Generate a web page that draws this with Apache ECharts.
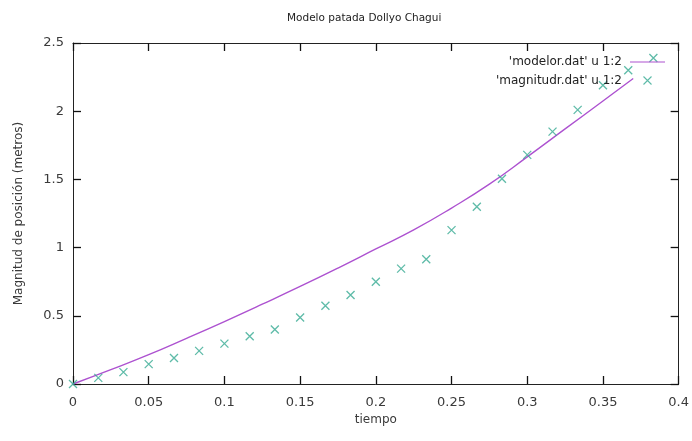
<!DOCTYPE html>
<html>
<head>
<meta charset="utf-8">
<script src="https://cdn.jsdelivr.net/npm/echarts@6/dist/echarts.min.js"></script>
<style>html,body{margin:0;padding:0;background:#fff}#c{width:692px;height:441px}</style>
</head>
<body>
<div id="c"></div>
<script>
// Model curve ('modelor.dat')
const modelT = [0, 0.025, 0.05, 0.075, 0.1, 0.125, 0.15, 0.175, 0.2, 0.225, 0.25, 0.275, 0.3, 0.325, 0.35, 0.37];
const modelY = [0, 0.105, 0.215, 0.335, 0.458, 0.585, 0.715, 0.85, 0.99, 1.13, 1.29, 1.465, 1.665, 1.87, 2.075, 2.24];
// Measured points ('magnitudr.dat')
const measT = [0, 0.0167, 0.0333, 0.05, 0.0667, 0.0833, 0.1, 0.1167, 0.1333, 0.15, 0.1667, 0.1833, 0.2, 0.2167, 0.2333, 0.25, 0.2667, 0.2833, 0.3, 0.3167, 0.3333, 0.35, 0.3667, 0.3833];
const measY = [0, 0.045, 0.087, 0.146, 0.19, 0.243, 0.296, 0.35, 0.4, 0.487, 0.574, 0.652, 0.75, 0.846, 0.915, 1.128, 1.30, 1.505, 1.68, 1.85, 2.01, 2.19, 2.30, 2.39];
const xTicks = [0, 0.05, 0.1, 0.15, 0.2, 0.25, 0.3, 0.35, 0.4];
const yTicks = [0, 0.5, 1, 1.5, 2, 2.5];
const seriesNames = ["'modelor.dat' u 1:2", "'magnitudr.dat' u 1:2"];
const titleText = 'Modelo patada Dollyo Chagui';
const xName = 'tiempo';
const yName = 'Magnitud de posición (metros)';

const FONT = 'DejaVu Sans';
const txt = '#3a3a3a';
const mkLine = () => ({show: true, onZero: false, lineStyle: {color: '#222', width: 1}});
const mkTick = () => ({show: true, inside: true, length: 8, lineStyle: {color: '#111', width: 1.3}});
const crossMark = 'path://M0,0L10,10M10,0L0,10';

const chart = echarts.init(document.getElementById('c'), null, {renderer: 'canvas'});
chart.setOption({
  animation: false,
  backgroundColor: '#fff',
  title: {
    text: titleText, left: 282, top: 8,
    textStyle: {fontFamily: FONT, fontSize: 10.5, fontWeight: 'normal', color: '#222'}
  },
  grid: {left: 73, right: 11, top: 43, bottom: 57, containLabel: false},
  legend: {
    orient: 'vertical', right: 22, top: 51, align: 'right',
    itemGap: 6, itemWidth: 35, itemHeight: 8,
    textStyle: {fontFamily: FONT, fontSize: 12, color: '#222', padding: [0, 3, 0, 0]},
    data: [
      {name: seriesNames[0], icon: 'path://M0,5L36,5L36,6.2L0,6.2Z'},
      {name: seriesNames[1], itemStyle: {color: 'none', borderColor: '#36aa92', borderWidth: 1.1}}
    ]
  },
  xAxis: [{
    type: 'value', min: xTicks[0], max: xTicks[xTicks.length - 1], interval: 0.05,
    name: xName, nameLocation: 'middle', nameGap: 30,
    nameTextStyle: {fontFamily: FONT, fontSize: 12, color: txt},
    axisLine: mkLine(), axisTick: mkTick(),
    axisLabel: {fontFamily: FONT, fontSize: 13, color: txt, margin: 12},
    splitLine: {show: false}
  }, {
    type: 'value', position: 'top', min: xTicks[0], max: xTicks[xTicks.length - 1], interval: 0.05,
    axisLine: mkLine(), axisTick: mkTick(), axisLabel: {show: false}, splitLine: {show: false}
  }],
  yAxis: [{
    type: 'value', min: yTicks[0], max: yTicks[yTicks.length - 1], interval: 0.5,
    name: yName, nameLocation: 'middle', nameGap: 48,
    nameTextStyle: {fontFamily: FONT, fontSize: 12, color: txt},
    axisLine: mkLine(), axisTick: mkTick(),
    axisLabel: {fontFamily: FONT, fontSize: 13, color: txt, margin: 9},
    splitLine: {show: false}
  }, {
    type: 'value', position: 'right', min: yTicks[0], max: yTicks[yTicks.length - 1], interval: 0.5,
    axisLine: mkLine(), axisTick: mkTick(), axisLabel: {show: false}, splitLine: {show: false}
  }],
  series: [{
    name: seriesNames[0], type: 'line', smooth: true, symbol: 'none',
    xAxisIndex: 0, yAxisIndex: 0,
    lineStyle: {color: '#ad52d0', width: 1.4},
    itemStyle: {color: '#ad52d0'},
    data: modelT.map((t, i) => [t, modelY[i]]),
    z: 2
  }, {
    name: seriesNames[1], type: 'scatter', symbol: crossMark, symbolSize: 8,
    xAxisIndex: 0, yAxisIndex: 0,
    itemStyle: {color: 'none', borderColor: '#36aa92', borderWidth: 1.3},
    data: measT.map((t, i) => [t, measY[i]]),
    z: 3
  }]
});
</script>
</body>
</html>
